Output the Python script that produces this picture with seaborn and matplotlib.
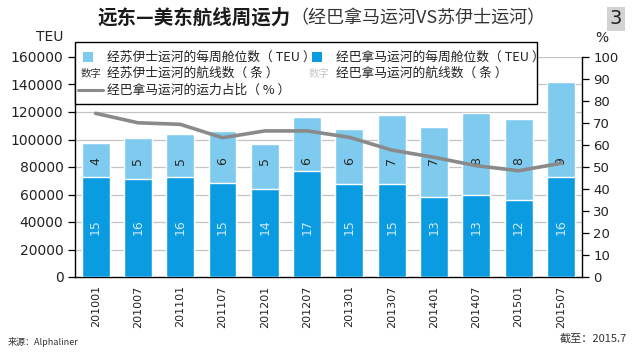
import numpy as np
import pandas as pd
import matplotlib
matplotlib.use("Agg")
import matplotlib.pyplot as plt
import seaborn as sns
from matplotlib.patches import Rectangle
from matplotlib.lines import Line2D

# ---- data ----
periods = ["201001", "201007", "201101", "201107", "201201", "201207",
           "201301", "201307", "201401", "201407", "201501", "201507"]
total_teu = [97700, 100900, 104200, 106000, 97000, 116400,
             107900, 117800, 109300, 119000, 115100, 142000]
panama_teu = [72500, 71000, 72700, 68600, 64200, 77300,
              67900, 67600, 58400, 59900, 56000, 73000]
suez_routes = [4, 5, 5, 6, 5, 6, 6, 7, 7, 8, 8, 9]
panama_routes = [15, 16, 16, 15, 14, 17, 15, 15, 13, 13, 12, 16]
panama_share = [74.4, 70.1, 69.4, 63.3, 66.4, 66.4, 63.5, 57.7, 54.4, 50.6, 48.3, 51.7]
left_ticks = [0, 20000, 40000, 60000, 80000, 100000, 120000, 140000, 160000]
right_ticks = [0, 10, 20, 30, 40, 50, 60, 70, 80, 90, 100]

LIGHT = "#7fcbf0"
DARK = "#0b9be0"
GREY = "#8a8a8a"

sns.set_theme(style="white")
plt.rcParams["font.family"] = ["Noto Sans CJK SC", "DejaVu Sans"]

df = pd.DataFrame({"period": periods, "total": total_teu, "panama": panama_teu,
                   "share": panama_share, "idx": np.arange(len(periods))})

fig = plt.figure(figsize=(6.35, 3.53), dpi=100, facecolor="white")
ax = fig.add_axes([74.5 / 635, 1 - 277 / 353, (582 - 74.5) / 635, (277 - 57) / 353])

# grid
for v in left_ticks[1:]:
    ax.axhline(v, color="#c4c4c4", lw=0.9, zorder=0)

sns.barplot(data=df, x="period", y="total", color=LIGHT, width=0.66,
            saturation=1, ax=ax, zorder=2, errorbar=None)
sns.barplot(data=df, x="period", y="panama", color=DARK, width=0.66,
            saturation=1, ax=ax, zorder=3, errorbar=None)

for i, (s, p) in enumerate(zip(suez_routes, panama_routes)):
    ax.text(i, 84000, str(s), rotation=90, ha="center", va="center",
            fontsize=9, color="#2a2a2a", family="DejaVu Sans", zorder=4)
    ax.text(i, 36000, str(p), rotation=90, ha="center", va="center",
            fontsize=9, color="#cdeaf9", family="DejaVu Sans", zorder=4)

ax.set_xlim(-0.5, len(periods) - 0.5)
ax.set_ylim(0, 160000)
ax.set_yticks(left_ticks)
ax.set_yticklabels([str(v) for v in left_ticks], family="DejaVu Sans", fontsize=10)
ax.set_xticks(np.arange(len(periods)))
ax.set_xticklabels(periods, rotation=90, family="DejaVu Sans", fontsize=8)
ax.set_xticks(np.arange(len(periods) + 1) - 0.5, minor=True)
ax.tick_params(axis="x", which="major", length=0, pad=6, colors="#222222")
ax.tick_params(axis="x", which="minor", length=5, width=0.9, color="black", direction="out")
ax.tick_params(axis="y", length=5, width=0.9, direction="out",
               left=True, pad=3, colors="#222222")
ax.tick_params(axis="y", color="black")
ax.set_xlabel("")
ax.set_ylabel("")
for side in ["left", "bottom"]:
    ax.spines[side].set_color("black")
    ax.spines[side].set_linewidth(1.0)
ax.spines["top"].set_visible(False)
ax.spines["right"].set_visible(False)

ax2 = ax.twinx()
sns.lineplot(data=df, x="idx", y="share", color=GREY, lw=2.6, ax=ax2, zorder=5)
ax2.set_ylim(0, 100)
ax2.set_yticks(right_ticks)
ax2.set_yticklabels([str(v) for v in right_ticks], family="DejaVu Sans", fontsize=9.5)
ax2.tick_params(axis="y", length=5, width=0.9, direction="out",
                right=True, pad=3, colors="#222222")
ax2.tick_params(axis="y", color="black")
ax2.set_ylabel("")
ax2.set_xlabel("")
ax2.set_xlim(-0.5, len(periods) - 0.5)
for side in ["top", "left", "bottom"]:
    ax2.spines[side].set_visible(False)
ax2.spines["right"].set_color("black")
ax2.spines["right"].set_linewidth(1.0)

# axis unit labels
fig.text(50 / 635, 1 - 37 / 353, "TEU", ha="center", va="center", fontsize=10,
         family="DejaVu Sans", color="#222222")
fig.text(602 / 635, 1 - 38 / 353, "%", ha="center", va="center", fontsize=10,
         family="DejaVu Sans", color="#222222")

# legend box (manual)
def fx(px):
    return px / 635

def fy(py):
    return 1 - py / 353

fig.patches.append(Rectangle((fx(75), fy(104)), fx(537) - fx(75), fy(42) - fy(104),
                             transform=fig.transFigure, facecolor="white",
                             edgecolor="black", lw=1.0, zorder=10))
LFS = 9.2
rows = [57, 73.5, 90]
# row 1
fig.patches.append(Rectangle((fx(83), fy(rows[0] + 5)), fx(93) - fx(83), fy(rows[0] - 5) - fy(rows[0] + 5),
                             transform=fig.transFigure, facecolor=LIGHT, edgecolor="none", zorder=11))
fig.text(fx(107), fy(rows[0]), "经苏伊士运河的每周舱位数（ TEU ）", fontsize=LFS, va="center",
         ha="left", color="#222222", zorder=11)
fig.patches.append(Rectangle((fx(312), fy(rows[0] + 5)), fx(322) - fx(312), fy(rows[0] - 5) - fy(rows[0] + 5),
                             transform=fig.transFigure, facecolor=DARK, edgecolor="none", zorder=11))
fig.text(fx(336), fy(rows[0]), "经巴拿马运河的每周舱位数（ TEU ）", fontsize=LFS, va="center",
         ha="left", color="#222222", zorder=11)
# row 2
fig.text(fx(91), fy(rows[1]), "数字", fontsize=7.5, va="center", ha="center",
         color="#333333", zorder=11)
fig.text(fx(107), fy(rows[1]), "经苏伊士运河的航线数（ 条 ）", fontsize=LFS, va="center",
         ha="left", color="#222222", zorder=11)
fig.text(fx(319), fy(rows[1]), "数字", fontsize=7.5, va="center", ha="center",
         color="#c8c8c8", zorder=11)
fig.text(fx(336), fy(rows[1]), "经巴拿马运河的航线数（ 条 ）", fontsize=LFS, va="center",
         ha="left", color="#222222", zorder=11)
# row 3
fig.lines.append(Line2D([fx(78), fx(103)], [fy(rows[2]), fy(rows[2])], transform=fig.transFigure,
                        color=GREY, lw=2.2, zorder=11))
fig.text(fx(107), fy(rows[2]), "经巴拿马运河的运力占比（ % ）", fontsize=LFS, va="center",
         ha="left", color="#222222", zorder=11)

# title
t1 = fig.text(fx(97), fy(18), "远东—美东航线周运力", fontsize=14, fontweight="bold",
              va="center", ha="left", color="#1a1a1a")
fig.canvas.draw()
bb = t1.get_window_extent()
fig.text(bb.x1 / fig.bbox.width, fy(18), "（经巴拿马运河VS苏伊士运河）", fontsize=13,
         va="center", ha="left", color="#333333")

# page number box
fig.text(fx(616), fy(19), "3", fontsize=14, ha="center", va="center", color="#222222",
         family="DejaVu Sans",
         bbox=dict(boxstyle="square,pad=0.12", facecolor="#d3d3d3", edgecolor="none"))

# footer
fig.text(fx(8), fy(342), "来源：Alphaliner", fontsize=6.5, ha="left", va="center", color="#333333")
fig.text(fx(627), fy(339), "截至：2015.7", fontsize=8, ha="right", va="center", color="#333333")

fig.savefig("out.png", dpi=100, facecolor="white")
